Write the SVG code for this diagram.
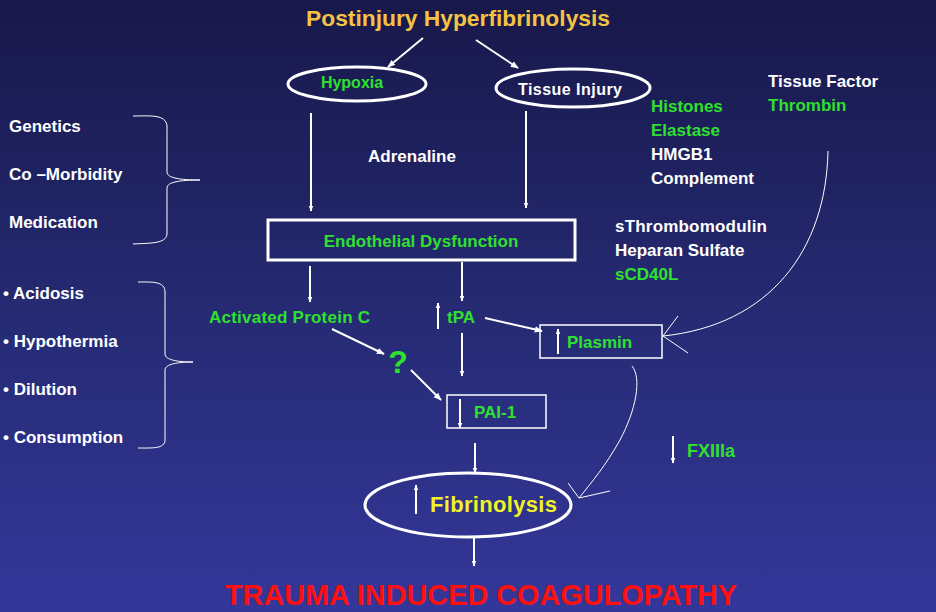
<svg xmlns="http://www.w3.org/2000/svg" width="936" height="612" viewBox="0 0 936 612">
<defs>
<linearGradient id="bg" x1="0" y1="0" x2="0" y2="1">
<stop offset="0" stop-color="#18184a"/>
<stop offset="0.5" stop-color="#252a72"/>
<stop offset="1" stop-color="#34379a"/>
</linearGradient>
<marker id="ah" viewBox="0 0 10 10" refX="9" refY="5" markerWidth="4" markerHeight="4" orient="auto" markerUnits="strokeWidth">
<path d="M0,1 L10,5 L0,9 z" fill="#fff"/>
</marker>
<marker id="ah2" viewBox="0 0 10 10" refX="9" refY="5" markerWidth="3" markerHeight="3" orient="auto" markerUnits="strokeWidth">
<path d="M0,1 L10,5 L0,9 z" fill="#fff"/>
</marker>
</defs>
<style>
text{font-family:"Liberation Sans",Arial,sans-serif;font-weight:bold}
.w{fill:#fff;font-size:17px}
.g{fill:#2fe02f;font-size:17px}
.ln{stroke:#fff;stroke-width:2;fill:none}
.thin{stroke:#fff;stroke-width:1;fill:none}
.box{stroke:#fff;stroke-width:1.5;fill:none}
</style>
<rect width="936" height="612" fill="url(#bg)"/>

<text x="306" y="26" style="fill:#f5c342;font-size:22px" textLength="304" lengthAdjust="spacingAndGlyphs">Postinjury Hyperfibrinolysis</text>

<g id="hypoxia">
<ellipse cx="357" cy="84" rx="69" ry="17" fill="none" stroke="#fff" stroke-width="3"/>
<text x="352" y="88" text-anchor="middle" class="g" style="font-size:16px">Hypoxia</text>
</g>
<g id="tissue-injury">
<ellipse cx="573" cy="88" rx="77" ry="19" fill="none" stroke="#fff" stroke-width="3"/>
<text x="570" y="95" text-anchor="middle" class="w" style="font-size:16px" textLength="104">Tissue Injury</text>
</g>

<g id="factors-left">
<text x="9" y="132" class="w">Genetics</text>
<text x="9" y="180" class="w">Co –Morbidity</text>
<text x="9" y="228" class="w">Medication</text>
</g>
<g id="factors-bullets">
<text x="3" y="299" class="w">• Acidosis</text>
<text x="3" y="347" class="w">• Hypothermia</text>
<text x="3" y="395" class="w">• Dilution</text>
<text x="3" y="443" class="w">• Consumption</text>
</g>

<g id="adrenaline"><text x="412" y="162" text-anchor="middle" class="w">Adrenaline</text></g>

<g id="endothelial">
<rect x="268" y="220" width="307" height="40" fill="none" stroke="#fff" stroke-width="3"/>
<text x="421" y="247" text-anchor="middle" class="g">Endothelial Dysfunction</text>
</g>

<g id="apc"><text x="209" y="323" class="g" textLength="161">Activated Protein C</text></g>
<g id="tpa"><text x="447" y="323" class="g">tPA</text></g>
<g id="question"><text x="398" y="373" text-anchor="middle" style="fill:#2fe02f;font-size:32px">?</text></g>

<g id="pai1">
<rect x="447" y="395" width="99" height="33" class="box"/>
<text x="474" y="418" class="g">PAI-1</text>
</g>

<g id="plasmin">
<rect x="540" y="325" width="122" height="33" class="box"/>
<text x="567" y="348" class="g">Plasmin</text>
</g>

<g id="fxiiia"><text x="687" y="457" style="fill:#2fe02f;font-size:18px">FXIIIa</text></g>

<g id="fibrinolysis">
<ellipse cx="468" cy="505" rx="103" ry="32" fill="none" stroke="#fff" stroke-width="3"/>
<text x="430" y="512" style="fill:#f2f224;font-size:22px" textLength="127">Fibrinolysis</text>
</g>

<g id="tic"><text x="225" y="605" style="fill:#ff1010;font-size:30px" textLength="512" lengthAdjust="spacingAndGlyphs">TRAUMA INDUCED COAGULOPATHY</text></g>

<g id="mediators-right">
<text x="768" y="87" class="w">Tissue Factor</text>
<text x="768" y="111" class="g">Thrombin</text>
<text x="651" y="112" class="g">Histones</text>
<text x="651" y="136" class="g">Elastase</text>
<text x="651" y="160" class="w">HMGB1</text>
<text x="651" y="184" class="w">Complement</text>
<text x="615" y="232" class="w" textLength="152">sThrombomodulin</text>
<text x="615" y="256" class="w">Heparan Sulfate</text>
<text x="615" y="280" class="g">sCD40L</text>
</g>

<g id="connectors">
<line x1="423" y1="38" x2="388" y2="67" class="ln" marker-end="url(#ah)"/>
<line x1="476" y1="40" x2="518" y2="68" class="ln" marker-end="url(#ah)"/>
<line x1="311" y1="113" x2="311" y2="211" class="ln" marker-end="url(#ah2)"/>
<line x1="526" y1="111" x2="526" y2="208" class="ln" marker-end="url(#ah2)"/>
<path d="M133,116 C150,116 166,114 167,126 L167,172 C167,178 180,180 200,180 C180,180 167,182 167,188 L167,234 C166,244 150,243 133,244" class="thin"/>
<path d="M138,282 C152,282 165,281 165,292 L165,354 C165,360 178,362 193,362 C178,362 165,364 165,370 L165,440 C165,449 152,448 138,448" class="thin"/>
<line x1="310" y1="266" x2="310" y2="302" class="ln" marker-end="url(#ah2)"/>
<line x1="462" y1="262" x2="462" y2="301" class="ln" marker-end="url(#ah2)"/>
<line x1="438" y1="329" x2="438" y2="303" class="ln" marker-end="url(#ah2)"/>
<line x1="462" y1="333" x2="462" y2="376" class="ln" marker-end="url(#ah2)"/>
<line x1="332" y1="329" x2="384" y2="354" class="ln" marker-end="url(#ah)"/>
<line x1="411" y1="370" x2="441" y2="400" class="ln" marker-end="url(#ah)"/>
<line x1="485" y1="318" x2="542" y2="331" class="ln" marker-end="url(#ah)"/>
<line x1="558" y1="354" x2="558" y2="329" class="ln" marker-end="url(#ah2)"/>
<line x1="460" y1="399" x2="460" y2="428" class="ln" marker-end="url(#ah2)"/>
<line x1="475" y1="443" x2="475" y2="473" class="ln" marker-end="url(#ah2)"/>
<line x1="416" y1="514" x2="416" y2="485" class="ln" marker-end="url(#ah2)"/>
<line x1="474" y1="537" x2="474" y2="566" class="ln" marker-end="url(#ah2)"/>
<line x1="673" y1="436" x2="673" y2="463" class="ln" marker-end="url(#ah2)"/>
<path d="M632,366 C642,378 636,410 620,440 C606,465 592,482 579,498" class="thin"/>
<polyline points="568,483 579,498 610,491" class="thin"/>
<path d="M828,151 C826,250 770,325 663,336" class="thin"/>
<polyline points="678,316 663,336 688,353" class="thin"/>
</g>
</svg>
